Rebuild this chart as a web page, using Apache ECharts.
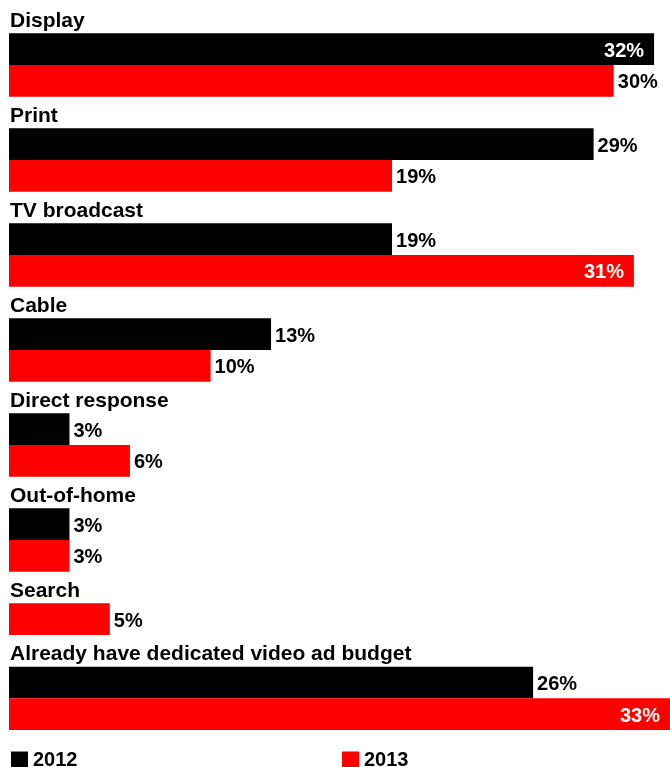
<!DOCTYPE html>
<html>
<head>
<meta charset="utf-8">
<script src="https://cdn.jsdelivr.net/npm/echarts@6/dist/echarts.min.js"></script>
<style>
html,body{margin:0;padding:0;background:#fff;}
#c{width:670px;height:767px;}
</style>
</head>
<body>
<div id="c"></div>
<script>
const groups = ['Display', 'Print', 'TV broadcast', 'Cable', 'Direct response', 'Out-of-home', 'Search', 'Already have dedicated video ad budget'];
const values2012 = [32, 29, 19, 13, 3, 3, null, 26];
const values2013 = [30, 19, 31, 10, 6, 3, 5, 33];
const seriesNames = ['2012', '2013'];

const FONT = '"Liberation Sans", Arial, sans-serif';
const INSIDE_THRESHOLD = 31;

// Build rows: a label row for each group, followed by one row per available year
const rowKeys = [], rowLabels = [], rows2012 = [], rows2013 = [];
function item(v) {
  if (v >= INSIDE_THRESHOLD) {
    return { value: v, label: { position: 'insideRight', color: '#fff', distance: 10 } };
  }
  return v;
}
groups.forEach((g, i) => {
  rowKeys.push(g + '_label'); rowLabels.push(g); rows2012.push('-'); rows2013.push('-');
  if (values2012[i] != null) {
    rowKeys.push(g + '_2012'); rowLabels.push(''); rows2012.push(item(values2012[i])); rows2013.push('-');
  }
  if (values2013[i] != null) {
    rowKeys.push(g + '_2013'); rowLabels.push(''); rows2012.push('-'); rows2013.push(item(values2013[i]));
  }
});

const labelCommon = {
  show: true,
  position: 'right',
  distance: 4,
  formatter: '{c}%',
  color: '#000',
  fontWeight: 'bold',
  fontSize: 20,
  fontFamily: FONT,
  offset: [0, 2]
};

const chart = echarts.init(document.getElementById('c'), null, { renderer: 'canvas' });
chart.setOption({
  animation: false,
  backgroundColor: '#fff',
  grid: { left: 9, right: 0, top: 1.67, height: 728.3 },
  xAxis: {
    type: 'value', min: 0, max: 32.79,
    show: false
  },
  yAxis: {
    type: 'category',
    inverse: true,
    data: rowKeys,
    axisLine: { show: false },
    axisTick: { show: false },
    splitLine: { show: false },
    axisLabel: {
      inside: true,
      interval: 0,
      margin: 1,
      align: 'left',
      formatter: (v, idx) => rowLabels[idx] ? '{g|' + rowLabels[idx] + '}' : '',
      rich: {
        g: {
          color: '#000',
          fontWeight: 'bold',
          fontSize: 21,
          fontFamily: FONT,
          padding: [7, 0, 0, 0]
        }
      }
    }
  },
  legend: [
    {
      data: [seriesNames[0]], left: 11, top: 750, padding: 0,
      itemWidth: 17, itemHeight: 17, icon: 'rect',
      textStyle: { color: '#000', fontWeight: 'bold', fontSize: 20, fontFamily: FONT }
    },
    {
      data: [seriesNames[1]], left: 342, top: 750, padding: 0,
      itemWidth: 17, itemHeight: 17, icon: 'rect',
      textStyle: { color: '#000', fontWeight: 'bold', fontSize: 20, fontFamily: FONT }
    }
  ],
  series: [
    {
      name: seriesNames[0], type: 'bar', data: rows2012,
      barWidth: '100%', barGap: '-100%', barCategoryGap: '0%',
      itemStyle: { color: '#000' },
      label: labelCommon
    },
    {
      name: seriesNames[1], type: 'bar', data: rows2013,
      barWidth: '100%', barGap: '-100%', barCategoryGap: '0%',
      itemStyle: { color: '#ff0000' },
      label: labelCommon
    }
  ]
});
</script>
</body>
</html>
